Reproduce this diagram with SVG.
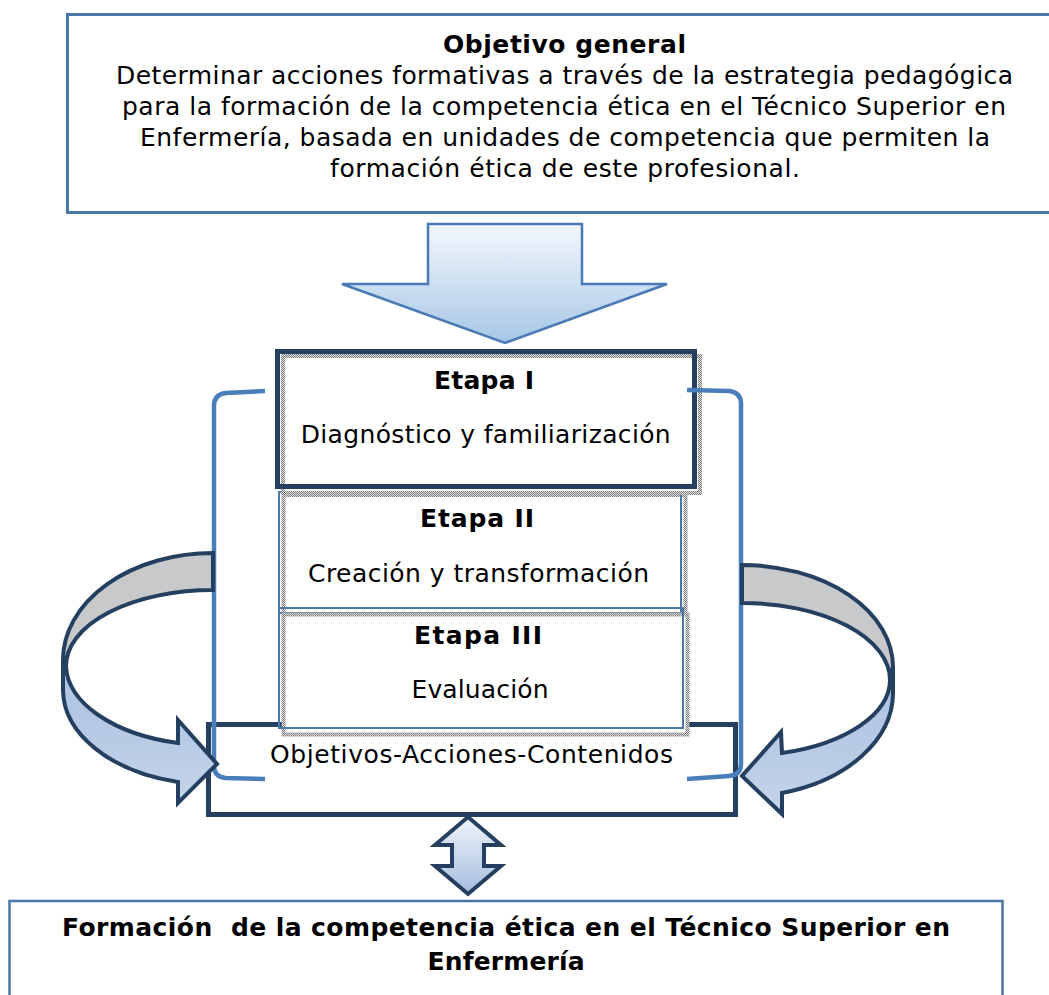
<svg xmlns="http://www.w3.org/2000/svg" width="1049" height="995" viewBox="0 0 1049 995">
<defs>
<style>
.t{font-family:"DejaVu Sans",Verdana,"Liberation Sans",sans-serif;font-size:25px;fill:#000;text-anchor:middle}
.b{font-weight:bold}
.navy{fill:none;stroke:#243f60;stroke-width:5}
.blueline{fill:none;stroke:#4a76a8;stroke-width:2}
.chk{fill:#fff;stroke:url(#chk);stroke-width:4}
.brk{fill:none;stroke:#4a7ebb;stroke-width:4.5;stroke-linecap:butt}
.arr{stroke:#243f60;stroke-width:4;stroke-linejoin:miter}
</style>
<pattern id="chk" width="2" height="2" patternUnits="userSpaceOnUse">
<rect width="2" height="2" fill="#e4e4e4"/>
<rect width="1" height="1" fill="#7a7a7a"/>
<rect x="1" y="1" width="1" height="1" fill="#7a7a7a"/>
</pattern>
<linearGradient id="gDown" x1="0" y1="0" x2="0" y2="1">
<stop offset="0" stop-color="#f3f7fc"/>
<stop offset="1" stop-color="#a7c7e7"/>
</linearGradient>
<linearGradient id="gDbl" x1="0" y1="0" x2="0" y2="1">
<stop offset="0" stop-color="#f0f4fa"/>
<stop offset="1" stop-color="#a4bddf"/>
</linearGradient>
<linearGradient id="gBand" x1="0" y1="0" x2="0" y2="1">
<stop offset="0" stop-color="#a9c0df"/>
<stop offset="1" stop-color="#c4d4ea"/>
</linearGradient>
</defs>
<rect width="1049" height="995" fill="#fff"/>

<g id="objetivo-general">
<rect x="67.5" y="14.5" width="1010" height="198" fill="#fff" stroke="#4a76a8" stroke-width="3"/>
<text class="t b" x="564.5" y="53" textLength="243">Objetivo general</text>
<text class="t" x="564.5" y="84" textLength="897">Determinar acciones formativas a través de la estrategia pedagógica</text>
<text class="t" x="564" y="115" textLength="884">para la formación de la competencia ética en el Técnico Superior en</text>
<text class="t" x="565" y="146" textLength="850">Enfermería, basada en unidades de competencia que permiten la</text>
<text class="t" x="565" y="177" textLength="470">formación ética de este profesional.</text>
</g>

<g id="objetivos-acciones-contenidos">
<rect x="208.5" y="724.5" width="527" height="90" fill="#fff" stroke="#243f60" stroke-width="5"/>
<text class="t" x="471.5" y="763" textLength="403">Objetivos-Acciones-Contenidos</text>
</g>

<g id="etapa-2">
<rect class="chk" x="283.5" y="495" width="402" height="120" stroke-width="3"/>
<rect class="blueline" x="279" y="492" width="402" height="121"/>
<text class="t b" x="477" y="527" textLength="114">Etapa II</text>
<text class="t" x="478.5" y="582" textLength="341">Creación y transformación</text>
</g>

<g id="etapa-3">
<rect class="chk" x="283.5" y="614.5" width="404" height="120" stroke-width="3"/>
<rect class="blueline" x="279" y="608" width="404" height="120"/>
<text class="t b" x="478" y="644" textLength="128">Etapa III</text>
<text class="t" x="480" y="698" textLength="137">Evaluación</text>
</g>

<g id="etapa-1">
<rect class="chk" x="283" y="356" width="417" height="137"/>
<rect class="navy" x="277.5" y="351.5" width="417" height="135"/>
<text class="t b" x="484" y="389" textLength="100">Etapa I</text>
<text class="t" x="485.7" y="443" textLength="370">Diagnóstico y familiarización</text>
</g>

<g id="formacion">
<rect x="9.5" y="901" width="993" height="130" fill="#fff" stroke="#4a76a8" stroke-width="2.5"/>
<text class="t b" x="506" y="936" textLength="888" xml:space="preserve">Formación  de la competencia ética en el Técnico Superior en</text>
<text class="t b" x="506" y="970" textLength="157">Enfermería</text>
</g>

<g id="connectors">
<path d="M428,224 H582 V284 H667 L505,343 L342,284 H428 Z" fill="url(#gDown)" stroke="#4a7ab5" stroke-width="2.5"/>
<path class="brk" d="M265,391 L226,393 Q214,394 214,406 V766 Q214,777 226,778 L265,779"/>
<path class="brk" d="M687,390 L729,391 Q741,392 741,404 V764 Q741,775 729,776 L687,779"/>
<path class="arr" fill="#c8c9cb" d="M213,553 A150,107 0 0 0 63,660 L66,666 A147,76 0 0 1 213,590 Z"/>
<path class="arr" fill="url(#gBand)" d="M63,660 V690 A150,95 0 0 0 178,782 L178,803 L217,764 L178,720 L178,743 A147,81 0 0 1 66,666 Z"/>
<path class="arr" fill="#c8c9cb" d="M742,565 A151,102 0 0 1 893,667 L890,680 A148,77 0 0 0 742,603 Z"/>
<path class="arr" fill="url(#gBand)" d="M893,667 V693 A151,104 0 0 1 782,793 L782,814 L742,776 L781,732 L782,753 A148,76 0 0 0 890,680 Z"/>
<path class="arr" fill="url(#gDbl)" d="M468,817 L501,845 H484 V866 H501 L468,894 L435,866 H452 V845 H435 Z"/>
</g>
</svg>
